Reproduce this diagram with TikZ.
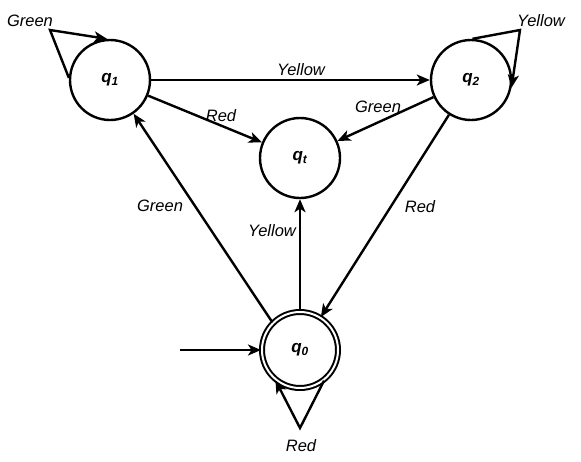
\documentclass[tikz,border=0pt]{standalone}
\usepackage{fontspec}
\setmainfont{Liberation Sans}
\usetikzlibrary{arrows.meta}
\begin{document}
\begin{tikzpicture}[x=1pt,y=-1pt,
  every node/.style={font=\fontsize{16.5}{19}\selectfont\itshape},
  state/.style={circle,draw,line width=2.4pt,minimum size=80pt,inner sep=0pt,font=\fontsize{17}{20}\selectfont\bfseries\itshape},
  accstate/.style={circle,draw,line width=2pt,double,double distance=2pt,minimum size=76pt,inner sep=0pt,font=\fontsize{17}{20}\selectfont\bfseries\itshape},
  arr/.style={line width=2.4pt,-{Stealth[length=13pt,width=11pt,inset=3.5pt]}},
  lbl/.style={inner sep=0pt}]
\useasboundingbox (0,0) rectangle (581,461);
\node[state] (q1) at (110,80) {q\textsubscript{1}};
\node[state] (q2) at (471,80) {q\textsubscript{2}};
\node[state] (qt) at (300,158) {q\textsubscript{t}};
\node[accstate] (q0) at (300,350) {q\textsubscript{0}};
\coordinate (init) at (180,350);
\coordinate (a1) at (50,30);
\coordinate (a2) at (520,30);
\coordinate (a0) at (300,428);
% transitions
\draw[arr] (q1) -- (q2);
\draw[arr] (q1) -- (qt);
\draw[arr] (q2) -- (qt);
\draw[arr] (q2) -- (q0);
\draw[arr] (q0) -- (qt);
\draw[arr] (q0.135) -- (q1.-55);
\draw[arr] (init) -- (q0);
% self loops
\draw[arr,line join=miter] (q1.177) -- (a1) -- (q1.94);
\draw[arr,line join=miter] (q2.88) -- (a2) -- (q2.-11);
\draw[arr,line join=miter] (q0.-52) -- (a0) -- (q0.-129);
% labels
\node[lbl] (lyq) at (301,70) {Yellow};
\node[lbl] (lrq) at (221,116) {Red};
\node[lbl] (lgq) at (378,107) {Green};
\node[lbl] (lgz) at (160,206) {Green};
\node[lbl] (lrz) at (420,207) {Red};
\node[lbl] (lyz) at (272,231) {Yellow};
\node[lbl] (lg1) at (30,21) {Green};
\node[lbl] (ly2) at (541,21) {Yellow};
\node[lbl] (lr0) at (301,446) {Red};
\end{tikzpicture}
\end{document}
